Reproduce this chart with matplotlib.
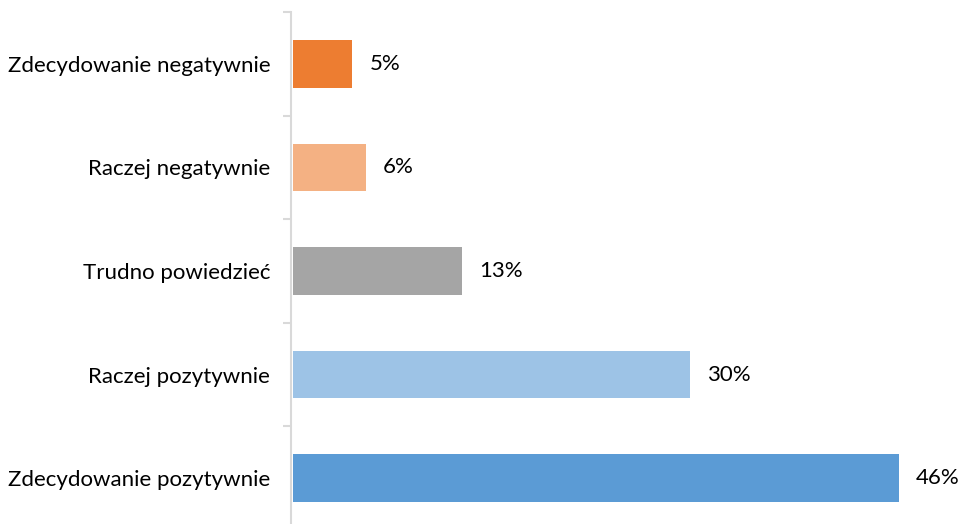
import matplotlib.pyplot as plt
import numpy as np

categories = ["Zdecydowanie negatywnie", "Raczej negatywnie", "Trudno powiedzieć",
              "Raczej pozytywnie", "Zdecydowanie pozytywnie"]
values = [4.5, 5.5, 12.8, 30.1, 45.9]
value_labels = ["5%", "6%", "13%", "30%", "46%"]
colors = ["#ED7D31", "#F4B183", "#A5A5A5", "#9DC3E6", "#5B9BD5"]

plt.rcParams['font.family'] = ['Lato', 'DejaVu Sans']

fig = plt.figure(figsize=(9.61, 5.24), dpi=100)
ax = fig.add_axes([291 / 961, -6 / 524, 660 / 961, 518 / 524])

y = np.arange(len(categories))
ax.barh(y, values, height=0.46, color=colors, left=0.15)
for yi, v, lab in zip(y, values, value_labels):
    ax.text(v + 0.15 + 1.3, yi, lab, va='center', ha='left', fontsize=16, color='#000000')

ax.set_xlim(0, 50)
ax.set_ylim(len(categories) - 0.5, -0.5)
ax.set_yticks(y)
ax.set_yticklabels(categories, fontsize=16)
ax.tick_params(axis='y', which='major', length=0, pad=15)
ax.set_yticks(np.arange(-0.5, len(categories)), minor=True)
ax.tick_params(axis='y', which='minor', length=6, width=1.5, color='#D9D9D9')
ax.set_xticks([])

for s in ['top', 'right', 'bottom']:
    ax.spines[s].set_visible(False)
ax.spines['left'].set_color('#D9D9D9')
ax.spines['left'].set_linewidth(1.5)

fig.savefig("out.png", dpi=100)
